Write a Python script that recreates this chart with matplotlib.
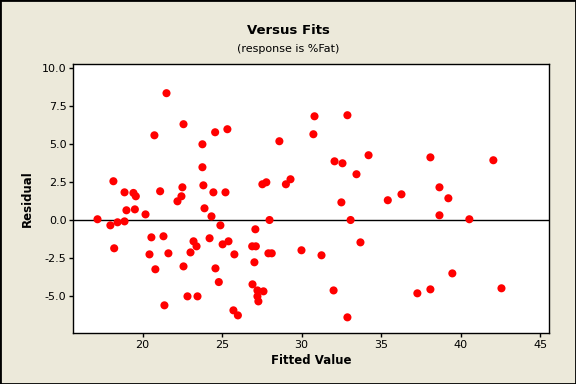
import matplotlib
matplotlib.use("Agg")
import matplotlib.pyplot as plt
from matplotlib.patches import Rectangle

fitted = [21.50, 22.57, 20.74, 24.56, 25.33, 23.76, 23.76, 18.16, 18.86, 19.42,
          19.57, 21.10, 22.50, 22.44, 22.19, 23.82, 24.45, 25.21, 18.98, 19.51,
          20.18, 23.89, 24.33, 17.16, 17.97, 18.42, 18.86, 24.89, 18.21, 20.55,
          21.31, 23.20, 23.39, 24.21, 25.03, 25.40, 20.43, 21.62, 23.01, 25.77,
          20.80, 22.57, 24.58, 24.79, 22.82, 23.45, 21.37, 25.71, 25.99, 30.81,
          32.88, 30.74, 28.60, 34.21, 32.07, 32.57, 33.45, 29.30, 29.01, 27.53,
          27.78, 32.50, 35.42, 27.98, 33.08, 27.09, 26.89, 27.12, 27.91, 28.12,
          29.99, 31.25, 33.70, 27.03, 26.91, 27.22, 27.60, 27.22, 27.28, 32.01,
          32.88, 38.10, 42.06, 38.67, 36.28, 39.23, 38.67, 40.55, 39.48, 38.10,
          37.28, 42.57]
residual = [8.36, 6.32, 5.59, 5.79, 5.99, 5.00, 3.49, 2.57, 1.84, 1.80,
            1.58, 1.91, 2.17, 1.58, 1.25, 2.30, 1.84, 1.84, 0.66, 0.72,
            0.39, 0.79, 0.26, 0.07, -0.33, -0.13, -0.07, -0.33, -1.84, -1.12,
            -1.05, -1.38, -1.71, -1.18, -1.58, -1.38, -2.24, -2.17, -2.11, -2.24,
            -3.22, -3.03, -3.16, -4.06, -5.00, -5.00, -5.59, -5.92, -6.25, 6.84,
            6.91, 5.66, 5.20, 4.28, 3.88, 3.75, 3.03, 2.70, 2.37, 2.37,
            2.50, 1.18, 1.32, 0.02, 0.02, -0.59, -1.71, -1.71, -2.17, -2.17,
            -1.97, -2.30, -1.45, -2.76, -4.21, -4.61, -4.67, -5.00, -5.33, -4.61,
            -6.38, 4.14, 3.95, 2.17, 1.71, 1.45, 0.33, 0.07, -3.49, -4.54,
            -4.80, -4.47]

xticks = [20, 25, 30, 35, 40, 45]
yticks = [-5.0, -2.5, 0.0, 2.5, 5.0, 7.5, 10.0]
ytick_labels = ["-5.0", "-2.5", "0.0", "2.5", "5.0", "7.5", "10.0"]

plt.rcParams['font.family'] = ['DejaVu Sans']

fig = plt.figure(figsize=(5.76, 3.84), dpi=100)
fig.patch.set_facecolor('#ECE9DA')
ax = fig.add_axes([0.1276, 0.1328, 0.8247, 0.6998])
ax.set_facecolor('white')

ax.axhline(0, color='black', linewidth=1.0, zorder=1)
ax.scatter(fitted, residual, s=34, color='#FF0000', edgecolors='none', zorder=3)

ax.set_xlim(15.65, 45.53)
ax.set_ylim(-7.41, 10.26)
ax.set_xticks(xticks)
ax.set_yticks(yticks)
ax.set_yticklabels(ytick_labels)
ax.tick_params(direction='out', length=3, width=1, labelsize=8, colors='black', pad=2)
for s in ax.spines.values():
    s.set_linewidth(1.0)
    s.set_color('black')

ax.set_xlabel('Fitted Value', fontsize=8.5, fontweight='bold', labelpad=3)
ax.set_ylabel('Residual', fontsize=8.5, fontweight='bold', labelpad=6)

fig.text(0.5, 1 - 30 / 384, 'Versus Fits', ha='center', va='center', fontsize=9.5, fontweight='bold')
fig.text(0.5, 1 - 48.5 / 384, '(response is %Fat)', ha='center', va='center', fontsize=8)

fig.add_artist(Rectangle((0, 0), 1, 1, transform=fig.transFigure, fill=False,
                         edgecolor='black', linewidth=2))

fig.savefig('out.png', dpi=100, facecolor=fig.get_facecolor())
